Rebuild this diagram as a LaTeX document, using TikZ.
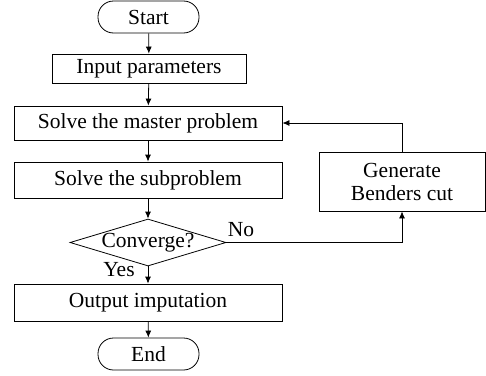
\documentclass[tikz,border=0pt]{standalone}
\usepackage{fontspec}
\setmainfont{Liberation Serif}
\usetikzlibrary{arrows.meta,shapes.geometric}
\begin{document}
\begin{tikzpicture}[x=1pt,y=-1pt,
  every node/.style={font=\fontsize{21.5}{23}\selectfont, inner sep=0pt},
  box/.style={draw, line width=0.8pt, rectangle},
  term/.style={draw, line width=0.8pt, rectangle, rounded corners=15.5pt, minimum width=101pt, minimum height=32pt},
  dec/.style={draw, line width=0.8pt, diamond, aspect=3.3, minimum width=156pt, minimum height=47pt},
  conn/.style={line width=0.8pt, -{Latex[length=7pt,width=6pt]}},
  lbl/.style={font=\fontsize{21.5}{23}\selectfont}]
\useasboundingbox (0,0) rectangle (486,375);
\node[term] (start) at (148.5,17) {Start};
\node[box, minimum width=194pt, minimum height=29pt] (input) at (149,68.5) {Input parameters};
\node[box, minimum width=268pt, minimum height=34pt] (master) at (148,123) {Solve the master problem};
\node[box, minimum width=268pt, minimum height=36pt] (sub) at (148,180) {Solve the subproblem};
\node[dec] (conv) at (148,242.5) {Converge?};
\node[box, minimum width=268pt, minimum height=37pt] (out) at (148,302.5) {Output imputation};
\node[term] (end) at (148.5,354) {End};
\node[box, minimum width=166pt, minimum height=59pt, align=center] (ben) at (402,181.5) {Generate\\Benders cut};
\node[lbl] (no) at (241,230) {No};
\node[lbl] (yes) at (119,270) {Yes};
\draw[conn] (start) -- (input);
\draw[conn] (input) -- (master);
\draw[conn] (master) -- (sub);
\draw[conn] (sub) -- (conv);
\draw[conn] (conv) -- (out);
\draw[conn] (out) -- (end);
\draw[conn] (conv.east) -| (ben.south);
\draw[conn] (ben.north) |- (master.east);
\end{tikzpicture}
\end{document}
